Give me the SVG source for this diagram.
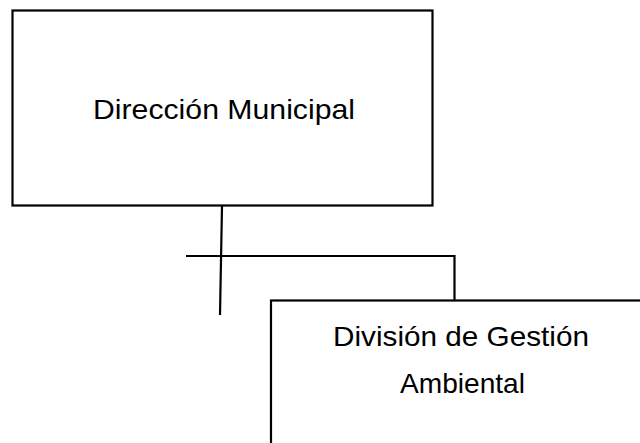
<svg xmlns="http://www.w3.org/2000/svg" width="640" height="443" viewBox="0 0 640 443">
<style>
.box{fill:#fff;stroke:#000;stroke-width:2.2}
.ln{fill:none;stroke:#000;stroke-width:2.2}
.t{font-family:"Liberation Sans","Open Sans",sans-serif;font-size:28px;fill:#000;text-anchor:middle}
</style>
<rect width="640" height="443" fill="#fff"/>
<g id="connectors">
<polyline class="ln" points="186,256 454.5,256 454.5,301"/>
<line class="ln" x1="222" y1="206" x2="220" y2="315"/>
</g>
<g id="node-direccion">
<rect class="box" x="12.5" y="10.5" width="420" height="195"/>
<text class="t" x="224" y="119" textLength="262" lengthAdjust="spacingAndGlyphs">Dirección Municipal</text>
</g>
<g id="node-division">
<rect class="box" x="271" y="300.5" width="380" height="160"/>
<text class="t" x="461" y="346" textLength="256" lengthAdjust="spacingAndGlyphs">División de Gestión</text>
<text class="t" x="462.5" y="393" textLength="125" lengthAdjust="spacingAndGlyphs">Ambiental</text>
</g>
</svg>
